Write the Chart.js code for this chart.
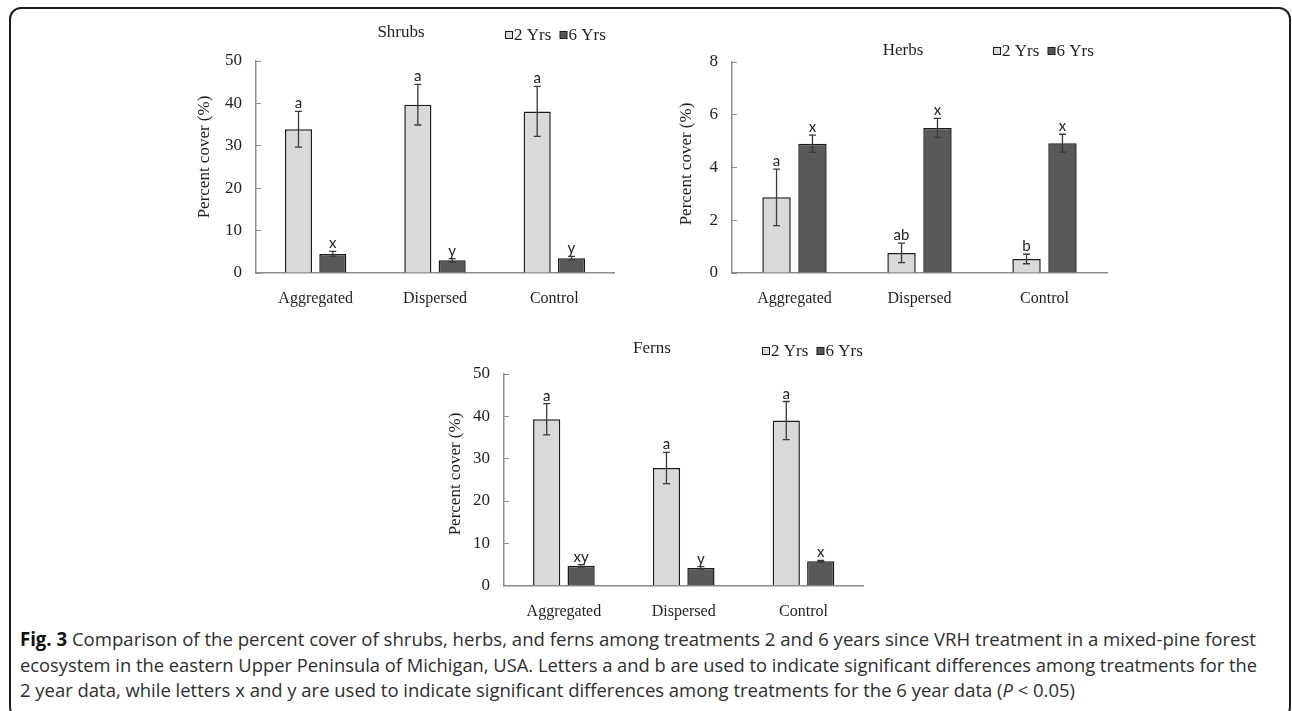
<!DOCTYPE html>
<html>
<head>
<meta charset="utf-8">
<script src="https://cdn.jsdelivr.net/npm/chart.js@4.4.0/dist/chart.umd.min.js"></script>
<style>
    body { margin: 0; background: #fff; width: 1292px; height: 711px; overflow: hidden; position: relative; }
    .frame { position: absolute; left: 9px; top: 7px; width: 1282px; height: 712px; border: 2px solid #1e1e1e; border-radius: 12px; box-sizing: border-box; }
    canvas { position: absolute; }
    .cap { position: absolute; left: 20px; white-space: nowrap; font-family: 'Open Sans', sans-serif; font-size: 19px; line-height: 26px; color: #2e2e2e; transform-origin: 0 0; }
    .cap b { color: #111; }
</style>
</head>
<body>
<div class="frame"></div>
<canvas id="shrubsChart" width="440" height="290" style="left:190px; top:20px;"></canvas>
<canvas id="herbsChart" width="480" height="290" style="left:640px; top:20px;"></canvas>
<canvas id="fernsChart" width="460" height="290" style="left:420px; top:330px;"></canvas>
<div class="cap" id="cap1" style="top:626px;"><b>Fig. 3</b> Comparison of the percent cover of shrubs, herbs, and ferns among treatments 2 and 6 years since VRH treatment in a mixed-pine forest</div>
<div class="cap" id="cap2" style="top:652px;">ecosystem in the eastern Upper Peninsula of Michigan, USA. Letters a and b are used to indicate significant differences among treatments for the</div>
<div class="cap" id="cap3" style="top:677px;">2 year data, while letters x and y are used to indicate significant differences among treatments for the 6 year data (<i>P</i> &lt; 0.05)</div>
<script>
    const categories = ['Aggregated', 'Dispersed', 'Control'];
    const seriesNames = ['2 Yrs', '6 Yrs'];

    // Shrubs (percent cover, standard error, letters)
    const shrubs2 = [33.9, 39.7, 38.1];
    const shrubs2Err = [4.2, 4.8, 5.9];
    const shrubs2Letters = ['a', 'a', 'a'];
    const shrubs6 = [4.5, 3.0, 3.5];
    const shrubs6Err = [0.6, 0.4, 0.4];
    const shrubs6Letters = ['x', 'y', 'y'];

    // Herbs
    const herbs2 = [2.87, 0.76, 0.53];
    const herbs2Err = [1.07, 0.37, 0.18];
    const herbs2Letters = ['a', 'ab', 'b'];
    const herbs6 = [4.9, 5.5, 4.92];
    const herbs6Err = [0.33, 0.36, 0.34];
    const herbs6Letters = ['x', 'x', 'x'];

    // Ferns
    const ferns2 = [39.3, 27.8, 39.0];
    const ferns2Err = [3.7, 3.7, 4.5];
    const ferns2Letters = ['a', 'a', 'a'];
    const ferns6 = [4.7, 4.2, 5.8];
    const ferns6Err = [0.3, 0.3, 0.2];
    const ferns6Letters = ['xy', 'y', 'x'];

    const yTitle = 'Percent cover (%)';

    const serif = 'Liberation Serif, Times New Roman, serif';
    const textColor = '#1f1f1f';
    const axisColor = '#8c8c8c';

    // error bars and significance letters on top of each bar
    const errorBarPlugin = {
        id: 'errorBars',
        afterDatasetsDraw(chart) {
            const ctx = chart.ctx;
            const yScale = chart.scales.y;
            ctx.save();
            chart.data.datasets.forEach((ds, i) => {
                const meta = chart.getDatasetMeta(i);
                meta.data.forEach((bar, j) => {
                    const v = ds.data[j];
                    const e = ds.errors[j];
                    const yTop = yScale.getPixelForValue(v + e);
                    const yBot = yScale.getPixelForValue(v - e);
                    ctx.strokeStyle = '#3a3a3a';
                    ctx.lineWidth = 1.3;
                    ctx.beginPath();
                    ctx.moveTo(bar.x, yTop);
                    ctx.lineTo(bar.x, yBot);
                    ctx.moveTo(bar.x - 3.5, yTop);
                    ctx.lineTo(bar.x + 3.5, yTop);
                    ctx.moveTo(bar.x - 3.5, yBot);
                    ctx.lineTo(bar.x + 3.5, yBot);
                    ctx.stroke();

                    ctx.fillStyle = '#222';
                    ctx.font = '15px Lato, "Open Sans", sans-serif';
                    ctx.textAlign = 'center';
                    ctx.textBaseline = 'alphabetic';
                    ctx.fillText(ds.letters[j], bar.x, yTop - 3);
                });
            });
            ctx.restore();
        }
    };

    // panel title, legend and rotated axis title
    function headerPlugin(title, lay) {
        return {
            id: 'header',
            afterDraw(chart) {
                const ctx = chart.ctx;
                ctx.save();
                ctx.fillStyle = textColor;
                ctx.font = '17px ' + serif;
                ctx.textAlign = 'center';
                ctx.textBaseline = 'middle';
                ctx.fillText(title, lay.titleX, lay.titleY);

                let x = lay.legendX;
                chart.data.datasets.forEach(ds => {
                    ctx.fillStyle = ds.backgroundColor;
                    ctx.fillRect(x + 0.5, lay.legendY - 3.5, 7, 7);
                    ctx.strokeStyle = '#1c1c1c';
                    ctx.lineWidth = 1;
                    ctx.strokeRect(x + 0.5, lay.legendY - 3.5, 7, 7);
                    ctx.fillStyle = textColor;
                    ctx.textAlign = 'left';
                    ctx.fillText(ds.label, x + 9, lay.legendY + 1);
                    x += 54.5;
                });

                ctx.translate(lay.axisX, lay.axisY);
                ctx.rotate(-Math.PI / 2);
                ctx.textAlign = 'center';
                ctx.fillText(yTitle, 0, 0);
                ctx.restore();
            }
        };
    }

    function makeChart(id, title, s2, e2, l2, s6, e6, l6, yMax, yStep, lay) {
        const ctx = document.getElementById(id).getContext('2d');
        return new Chart(ctx, {
            type: 'bar',
            data: {
                labels: categories,
                datasets: [{
                    label: seriesNames[0],
                    data: s2,
                    errors: e2,
                    letters: l2,
                    backgroundColor: '#d9d9d9',
                    borderColor: '#1c1c1c',
                    borderWidth: 1.5,
                    categoryPercentage: 0.575,
                    barPercentage: 0.79
                }, {
                    label: seriesNames[1],
                    data: s6,
                    errors: e6,
                    letters: l6,
                    backgroundColor: '#595959',
                    borderColor: '#1c1c1c',
                    borderWidth: 1.5,
                    categoryPercentage: 0.575,
                    barPercentage: 0.79
                }]
            },
            options: {
                responsive: false,
                animation: false,
                devicePixelRatio: 1,
                layout: { padding: { top: lay.top, right: lay.right, left: 0, bottom: 0 } },
                plugins: {
                    legend: { display: false },
                    title: { display: false },
                    tooltip: { enabled: false }
                },
                scales: {
                    x: {
                        grid: { display: false },
                        border: { color: axisColor, width: 1.5 },
                        ticks: { color: textColor, font: { family: serif, size: 16 }, padding: 8.5 },
                        afterFit: s => { s.height = lay.xh; }
                    },
                    y: {
                        min: 0,
                        max: yMax,
                        ticks: { stepSize: yStep, color: textColor, font: { family: serif, size: 17 }, padding: 19 },
                        grid: { drawOnChartArea: false, tickLength: -5, color: axisColor, lineWidth: 1 },
                        border: { color: axisColor, width: 1.5 },
                        afterFit: s => { s.width = lay.yw; }
                    }
                }
            },
            plugins: [errorBarPlugin, headerPlugin(title, lay)]
        });
    }

    makeChart('shrubsChart', 'Shrubs', shrubs2, shrubs2Err, shrubs2Letters, shrubs6, shrubs6Err, shrubs6Letters, 50, 10,
        { top: 41, right: 16, xh: 37, yw: 66, titleX: 211, titleY: 13, legendX: 315, legendY: 15, axisX: 15, axisY: 137 });
    makeChart('herbsChart', 'Herbs', herbs2, herbs2Err, herbs2Letters, herbs6, herbs6Err, herbs6Letters, 8, 2,
        { top: 42, right: 13, xh: 37, yw: 92, titleX: 263, titleY: 31, legendX: 353, legendY: 31, axisX: 47, axisY: 144 });
    makeChart('fernsChart', 'Ferns', ferns2, ferns2Err, ferns2Letters, ferns6, ferns6Err, ferns6Letters, 50, 10,
        { top: 44, right: 16.6, xh: 34.3, yw: 84, titleX: 232, titleY: 19, legendX: 342, legendY: 21, axisX: 36, axisY: 144 });

    // squeeze caption lines to the width of the condensed original
    function fitCaption(id, target) {
        const el = document.getElementById(id);
        const w = el.getBoundingClientRect().width;
        const k = target / w;
        el.style.transform = 'scaleX(' + k + ')';
        return k;
    }
    const k1 = fitCaption('cap1', 1236);
    const k2 = fitCaption('cap2', 1237);
    document.getElementById('cap3').style.transform = 'scaleX(' + ((k1 + k2) / 2) + ')';
</script>
</body>
</html>
